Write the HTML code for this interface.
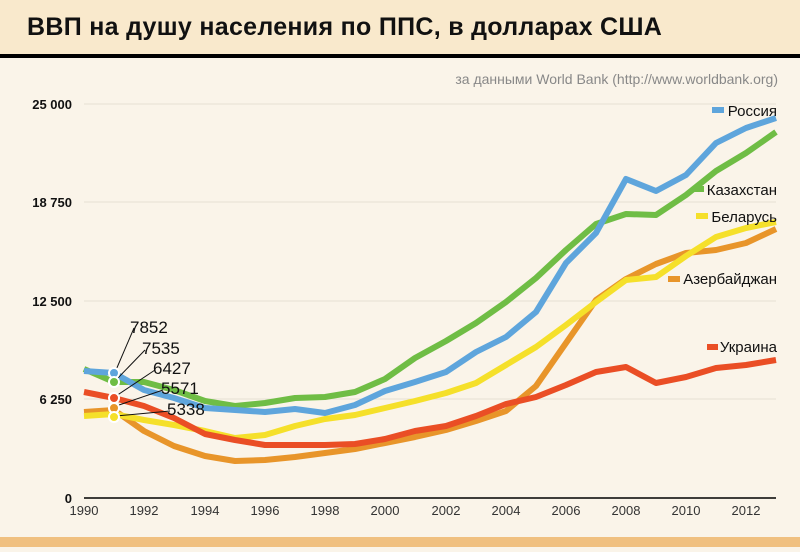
<!DOCTYPE html><html><head><meta charset="utf-8"><style>body{margin:0;width:800px;height:547px;overflow:hidden;background:#faf4e9;font-family:"Liberation Sans",sans-serif}</style></head><body>
<svg width="800" height="547" xmlns="http://www.w3.org/2000/svg" font-family="Liberation Sans, sans-serif">
<rect width="800" height="547" fill="#faf4e9"/>
<rect width="800" height="54" fill="#f9e9cc"/>
<rect y="54" width="800" height="4" fill="#000"/>
<text x="27" y="35" font-size="25" font-weight="bold" fill="#111" letter-spacing="0.3">ВВП на душу населения по ППС, в долларах США</text>
<text x="778" y="84" font-size="14" fill="#888" text-anchor="end">за данными World Bank (http://www.worldbank.org)</text>
<g stroke="#e6e0d4" stroke-width="1"><line x1="84" y1="104" x2="776" y2="104"/><line x1="84" y1="202" x2="776" y2="202"/><line x1="84" y1="301" x2="776" y2="301"/><line x1="84" y1="399" x2="776" y2="399"/></g>
<line x1="84" y1="498" x2="776" y2="498" stroke="#000" stroke-width="1.5"/>
<g font-size="13" font-weight="bold" fill="#111" text-anchor="end"><text x="72" y="109">25 000</text><text x="72" y="207">18 750</text><text x="72" y="306">12 500</text><text x="72" y="404">6 250</text><text x="72" y="503">0</text></g>
<g font-size="13" fill="#333" text-anchor="middle"><text x="84" y="515">1990</text><text x="144" y="515">1992</text><text x="205" y="515">1994</text><text x="265" y="515">1996</text><text x="325" y="515">1998</text><text x="385" y="515">2000</text><text x="446" y="515">2002</text><text x="506" y="515">2004</text><text x="566" y="515">2006</text><text x="626" y="515">2008</text><text x="686" y="515">2010</text><text x="746" y="515">2012</text></g>
<g fill="none" stroke-width="6" stroke-linejoin="round">
<polyline stroke="#e8952a" points="84,412 114,410 144,431 174,446 205,456 235,461 265,460 295,457 325,453 355,449 385,443 415,437 446,430 476,421 506,411 536,386 566,343 596,300 626,279 656,264 686,253 716,250 746,243 776,229"/>
<polyline stroke="#f5e02a" points="84,416 114,414 144,420 174,425 205,431 235,438 265,435 295,426 325,419 355,415 385,408 415,401 446,393 476,383 506,365 536,347 566,325 596,302 626,280 656,277 686,256 716,237 746,228 776,222"/>
<polyline stroke="#ea4e25" points="84,392 114,398 144,406 174,418 205,434 235,440 265,445 295,445 325,445 355,444 385,439 415,431 446,426 476,416 506,404 536,397 566,385 596,372 626,367 656,383 686,377 716,368 746,365 776,360"/>
<polyline stroke="#6fbd45" points="84,369 114,382 144,382 174,390 205,401 235,406 265,403 295,398 325,397 355,392 385,379 415,358 446,341 476,323 506,302 536,278 566,250 596,224 626,214 656,215 686,195 716,171 746,153 776,132"/>
<polyline stroke="#5ea5dc" points="84,371 114,373 144,390 174,398 205,408 235,410 265,412 295,409 325,413 355,405 385,391 415,382 446,372 476,352 506,337 536,312 566,263 596,233 626,179 656,191 686,175 716,143 746,128 776,118"/>
</g>
<g stroke="#111" stroke-width="1"><line x1="116" y1="370" x2="134" y2="328"/><line x1="116" y1="380" x2="145" y2="350"/><line x1="116" y1="396" x2="155" y2="370"/><line x1="116" y1="406" x2="163" y2="390"/><line x1="116" y1="416" x2="170" y2="411"/></g>
<g stroke="#fff" stroke-width="2"><circle cx="114" cy="373" r="5" fill="#5ea5dc"/><circle cx="114" cy="382" r="5" fill="#6fbd45"/><circle cx="114" cy="398" r="5" fill="#ea4e25"/><circle cx="114" cy="408" r="5" fill="#e8952a"/><circle cx="114" cy="417" r="5" fill="#f5e02a"/></g>
<g font-size="17" fill="#111"><text x="130" y="333">7852</text><text x="142" y="354">7535</text><text x="153" y="374">6427</text><text x="161" y="394">5571</text><text x="167" y="415">5338</text></g>
<g font-size="15" fill="#111" text-anchor="end">
<rect x="712" y="107" width="12" height="6" fill="#5ea5dc"/><text x="777" y="116">Россия</text>
<rect x="693" y="186" width="11" height="6" fill="#6fbd45"/><text x="777" y="195">Казахстан</text>
<rect x="696" y="213" width="12" height="6" fill="#f5e02a"/><text x="777" y="222">Беларусь</text>
<rect x="668" y="276" width="12" height="6" fill="#e8952a"/><text x="777" y="284">Азербайджан</text>
<rect x="707" y="344" width="11" height="6" fill="#ea4e25"/><text x="777" y="352">Украина</text>
</g>
<rect y="537" width="800" height="10" fill="#f0c080"/>
</svg></body></html>
